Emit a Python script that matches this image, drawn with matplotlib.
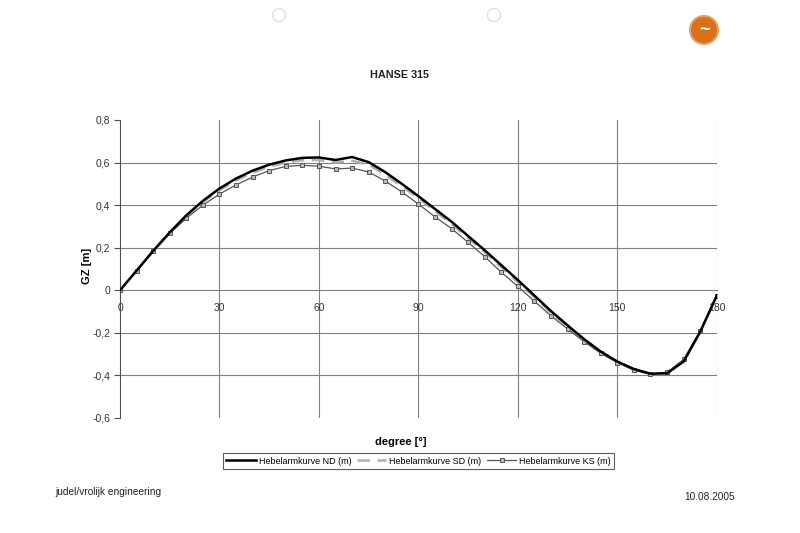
from matplotlib import pyplot as plt
from matplotlib import patches
import numpy as np

# heel angle in degrees, one point every 5 degrees
degrees = list(range(0, 185, 5))

gz_nd = [0.000, 0.092, 0.185, 0.272, 0.352, 0.420, 0.478, 0.525, 0.562, 0.590,
         0.610, 0.622, 0.624, 0.612, 0.626, 0.602, 0.555, 0.500, 0.442, 0.382,
         0.322, 0.255, 0.188, 0.118, 0.048, -0.025, -0.098, -0.165, -0.230, -0.288,
         -0.335, -0.370, -0.392, -0.390, -0.335, -0.195, -0.025]
gz_sd = [0.000, 0.092, 0.184, 0.270, 0.348, 0.415, 0.470, 0.516, 0.552, 0.580,
         0.600, 0.611, 0.612, 0.600, 0.608, 0.590, 0.542, 0.488, 0.432, 0.372,
         0.312, 0.245, 0.178, 0.108, 0.038, -0.033, -0.105, -0.170, -0.234, -0.290,
         -0.336, -0.372, -0.393, -0.388, -0.330, -0.193, -0.025]
gz_ks = [0.000, 0.092, 0.183, 0.267, 0.338, 0.400, 0.452, 0.495, 0.532, 0.562,
         0.582, 0.587, 0.583, 0.570, 0.574, 0.556, 0.513, 0.462, 0.405, 0.345,
         0.290, 0.225, 0.158, 0.085, 0.018, -0.052, -0.120, -0.182, -0.242, -0.296,
         -0.340, -0.376, -0.394, -0.385, -0.325, -0.190, -0.025]

x_ticks = [0, 30, 60, 90, 120, 150, 180]
y_ticks = [-0.6, -0.4, -0.2, 0, 0.2, 0.4, 0.6, 0.8]
y_grid = [-0.4, -0.2, 0.2, 0.4, 0.6]
labels = ["Hebelarmkurve ND (m)", "Hebelarmkurve SD (m)", "Hebelarmkurve KS (m)"]

plt.rcParams['font.family'] = ['Liberation Sans', 'DejaVu Sans']

fig = plt.figure(figsize=(8, 5.33), dpi=100)
ax = fig.add_axes([0.15, 0.2158, 0.746, 0.5591])

# grid
for yv in y_grid:
    ax.axhline(yv, color="#808080", lw=0.8, zorder=1)
for xv in x_ticks[1:]:
    ax.axvline(xv, color="#808080", lw=0.8, zorder=1)

ax.plot(degrees, gz_nd, color="black", lw=1.8, label=labels[0], zorder=4,
        solid_joinstyle="round")
ax.plot(degrees, gz_sd, color="#b0b0b0", lw=1.8, ls=(0, (5, 3)), label=labels[1], zorder=3)
ax.plot(degrees, gz_ks, color="#555555", lw=0.9, marker="s", ms=3.2,
        mfc="#b8b8b8", mec="#555555", mew=0.7, label=labels[2], zorder=3)

ax.set_xlim(0, 180)
ax.set_ylim(-0.6, 0.8)
ax.set_xticks(x_ticks)
ax.set_xticklabels([str(v) for v in x_ticks])
ax.set_yticks(y_ticks)
ax.set_yticklabels([f"{v:.1f}".replace(".", ",") if v != 0 else "0" for v in y_ticks])

# x axis sits on GZ = 0, labels just below it
ax.spines["bottom"].set_position(("data", 0))
ax.spines["bottom"].set_color("#808080")
ax.spines["bottom"].set_linewidth(0.8)
ax.spines["top"].set_visible(False)
ax.spines["right"].set_visible(False)
ax.spines["left"].set_color("#505050")
ax.tick_params(axis="x", length=0, pad=9, labelsize=7.5, colors="#333333")
ax.tick_params(axis="y", length=4, width=0.8, color="#505050", labelsize=7.5,
               colors="#333333", pad=3)

ax.set_ylabel("GZ [m]", fontsize=8, fontweight="bold")
ax.yaxis.set_label_coords(-0.047, 0.51)
ax.set_xlabel("degree [°]", fontsize=8, fontweight="bold")
ax.xaxis.set_label_coords(0.47, -0.065)

fig.text(0.5, 1 - 75 / 533, "HANSE 315", ha="center", va="center",
         fontsize=7.8, fontweight="bold", color="#222222")

leg = fig.legend(loc="center", bbox_to_anchor=(0.523, 1 - 461 / 533), ncol=3,
                 fontsize=6.5, frameon=True, fancybox=False, handlelength=3.3,
                 handletextpad=0.3, columnspacing=0.6, borderpad=0.35)
leg.get_frame().set_edgecolor("#333333")
leg.get_frame().set_linewidth(0.8)

fig.text(55 / 800, 1 - 492 / 533, "judel/vrolijk engineering", fontsize=7.3,
         va="center", color="#222222")
fig.text(735 / 800, 1 - 497 / 533, "10.08.2005", fontsize=7.3, ha="right",
         va="center", color="#222222")

# punch holes and logo from the scanned sheet
for px in (279, 494):
    fig.add_artist(patches.Ellipse((px / 800, 1 - 15 / 533), 13 / 800, 13 / 533,
                                   fill=False, ec="#e0e0e0", lw=1.0))
fig.add_artist(patches.Ellipse((704 / 800, 1 - 30 / 533), 28 / 800, 28 / 533,
                               fc="#d9701c", ec="#e8a060", lw=1.5))
fig.text(704 / 800, 1 - 30 / 533, "~", ha="center", va="center", fontsize=13,
         fontweight="bold", color="white")

fig.savefig("out.png", dpi=100)
